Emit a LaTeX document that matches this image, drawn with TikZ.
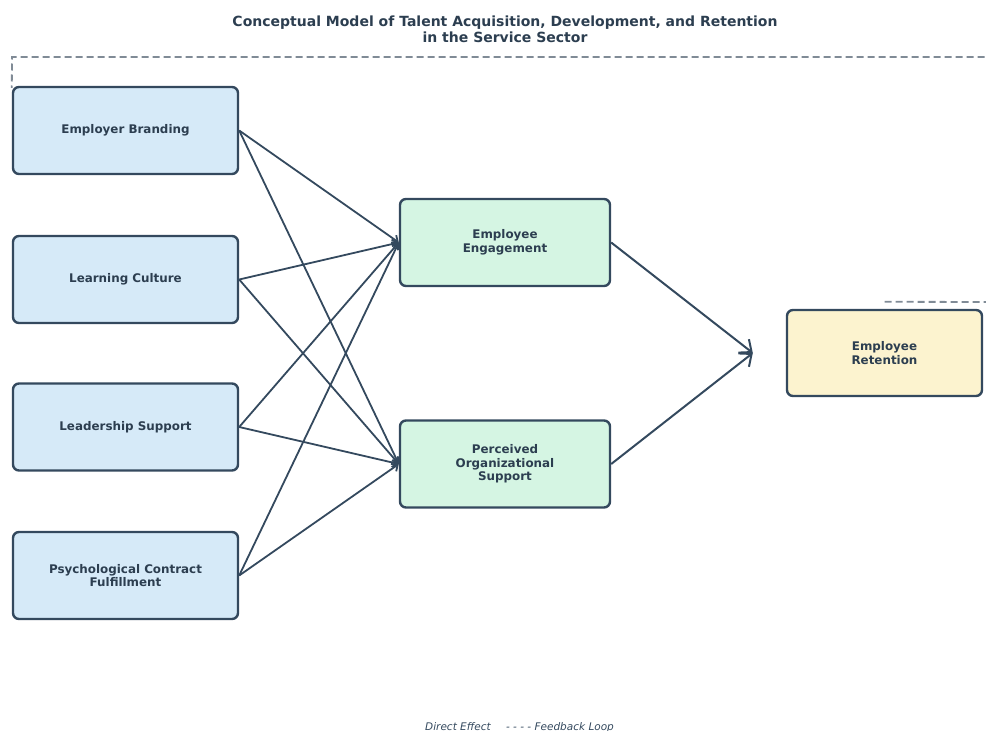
\documentclass[tikz,border=0pt]{standalone}
\usepackage{fontspec}
\setmainfont{DejaVu Sans}
\usetikzlibrary{arrows.meta,positioning}
\definecolor{inkdark}{HTML}{34495E}
\definecolor{textdark}{HTML}{2C3E50}
\definecolor{antefill}{HTML}{D6EAF8}
\definecolor{mediatorfill}{HTML}{D5F5E3}
\definecolor{outcomefill}{HTML}{FCF3CF}
\definecolor{loopgray}{HTML}{808B96}

\begin{document}
\begin{tikzpicture}
            [
                x=1pt, y=-1pt,
                basebox/.style={rectangle, rounded corners=6pt, draw=inkdark, line width=2.4pt, text=textdark, align=center, inner sep=0pt, font=\bfseries\fontsize{11.9}{13.5}\selectfont},
                antebox/.style={basebox, fill=antefill, minimum width=225pt, minimum height=87pt},
                mediatorbox/.style={basebox, fill=mediatorfill, minimum width=210pt, minimum height=87pt},
                outcomebox/.style={basebox, fill=outcomefill, minimum width=195pt, minimum height=86pt},
                directarrow/.style={draw=inkdark, line width=1.8pt, -{Straight Barb[length=5pt,width=9pt]}},
                bigarrow/.style={draw=inkdark, line width=2pt, -{Straight Barb[length=10pt,width=17pt]}},
                loopline/.style={draw=loopgray, line width=1.8pt, dash pattern=on 7pt off 4pt},
                legendtext/.style={text=inkdark, inner sep=0pt, anchor=base, font=\itshape\fontsize{10.5}{12}\selectfont},
            ]

            \clip (0,0) rectangle (986,731);

            %% TITLE
            \node[text=textdark, align=center, font=\bfseries\fontsize{14}{16}\selectfont] (title) at(505,29) {Conceptual Model of Talent Acquisition, Development, and Retention\\in the Service Sector};

            %% ANTECEDENTS
            \node[antebox] (branding) at(125.5,130.5) {Employer Branding};
            \node[antebox] (learning) at(125.5,279.5) {Learning Culture};
            \node[antebox] (leadership) at(125.5,427) {Leadership Support};
            \node[antebox] (contract) at(125.5,575.5) {Psychological Contract\\Fulfillment};

            %% MEDIATORS
            \node[mediatorbox] (engagement) at(505,242.5) {Employee\\Engagement};
            \node[mediatorbox] (support) at(505,464) {Perceived\\Organizational\\Support};

            %% OUTCOME
            \node[outcomebox] (retention) at(884.5,353) {Employee\\Retention};
            \coordinate (retentionin) at([xshift=-33pt]retention.west);

            %% DIRECT EFFECTS
            \foreach \src in {branding,learning,leadership,contract}
            {
                \draw[directarrow] (\src.east) -- (engagement.west);
                \draw[directarrow] (\src.east) -- (support.west);
            }
            \draw[bigarrow] (engagement.east) -- (retentionin);
            \draw[bigarrow] (support.east) -- (retentionin);

            %% FEEDBACK LOOP
            \coordinate (loopstart) at([yshift=7pt]retention.north);
            \coordinate (loopend) at(branding.north west);
            \draw[loopline] (loopstart) -- (1010,302) -- (1010,57) -- (12,57) -- ([yshift=-2pt]loopend);

            %% KEY
            \node[legendtext] (keydirect) at(458,730) {Direct Effect};
            \node[legendtext] (keyloop) at(560,730) {- - - - Feedback Loop};

        \end{tikzpicture}
\end{document}
